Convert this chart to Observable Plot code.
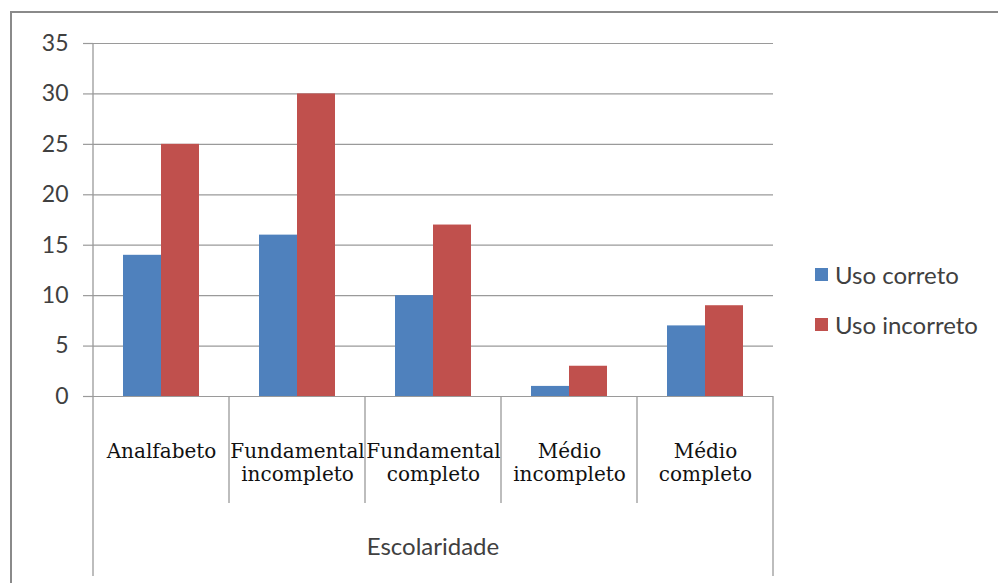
<!DOCTYPE html>
<html>
<head>
<meta charset="utf-8">
<script src="https://cdn.jsdelivr.net/npm/d3@7"></script>
<script src="https://cdn.jsdelivr.net/npm/@observablehq/plot@0.6"></script>
<style>
  html, body { margin: 0; padding: 0; background: #fff; }
  #chart { position: relative; width: 998px; height: 583px; overflow: hidden; }
  #legend { position: absolute; left: 815px; top: 249px; font-family: Lato, sans-serif; font-size: 24px; color: #404040; }
  #legend .item { display: flex; align-items: center; height: 50px; }
  #legend .sw { width: 13px; height: 13px; margin-right: 7px; }
</style>
</head>
<body>
<div id="chart"></div>
<script>
// Escolaridade x uso do medicamento
const categories = ["Analfabeto", "Fundamental incompleto", "Fundamental completo", "Médio incompleto", "Médio completo"];
const categoryLabels = ["Analfabeto", "Fundamental\nincompleto", "Fundamental\ncompleto", "Médio\nincompleto", "Médio\ncompleto"];
const series = ["Uso correto", "Uso incorreto"];
const usoCorreto = [14, 16, 10, 1, 7];
const usoIncorreto = [25, 30, 17, 3, 9];
const yTicks = [0, 5, 10, 15, 20, 25, 30, 35];
const colors = ["#4F81BD", "#C0504D"];
const axisTitle = "Escolaridade";

const rows = categories.flatMap((c, i) => [
  {cat: c, series: series[0], value: usoCorreto[i]},
  {cat: c, series: series[1], value: usoIncorreto[i]}
]);
const labelRows = categories.map((c, i) => ({cat: c, label: categoryLabels[i]}));

const W = 998, H = 583;
const gridColor = "#9a9a9a";

const plot = Plot.plot({
  width: W,
  height: H,
  marginLeft: 93,
  marginRight: 225,
  marginTop: 43,
  marginBottom: 187,
  style: {background: "transparent", overflow: "visible"},
  fx: {domain: categories, padding: 0, axis: null},
  x: {domain: series, paddingInner: 0, paddingOuter: 0.744, axis: null},
  y: {domain: [0, 35], axis: null},
  color: {domain: series, range: colors},
  marks: [
    Plot.ruleY(yTicks, {stroke: gridColor, strokeWidth: 1.2}),
    Plot.axisY({
      facet: null,
      ticks: yTicks,
      tickSize: 10,
      tickPadding: 15,
      stroke: gridColor,
      strokeWidth: 1.2,
      label: null,
      fontSize: 23,
      fontFamily: "Lato, sans-serif",
      fill: "#404040"
    }),
    Plot.barY(rows, {fx: "cat", x: "series", y: "value", fill: "series"}),
    Plot.text(labelRows, {
      fx: "cat",
      text: "label",
      frameAnchor: "bottom",
      lineAnchor: "top",
      lineHeight: 1.15,
      dy: 45,
      fontSize: 20,
      fontFamily: "'DejaVu Serif', serif",
      fill: "#111"
    })
  ]
});

document.getElementById("chart").appendChild(plot);

// Category dividers, outer axis lines and axis title, placed from the fx scale
const fx = plot.scale("fx");
const yScale = plot.scale("y");
const svg = d3.select(plot);
const y0 = yScale.apply(0);
const edges = categories.map(c => fx.apply(c)).concat([fx.apply(categories[categories.length - 1]) + fx.bandwidth]);
edges.forEach((x, i) => {
  const outer = i === 0 || i === edges.length - 1;
  svg.append("line")
    .attr("x1", x).attr("x2", x)
    .attr("y1", i === 0 ? yScale.apply(35) : y0)
    .attr("y2", outer ? 576 : 503)
    .attr("stroke", gridColor).attr("stroke-width", 1.3);
});
const xMid = (edges[0] + edges[edges.length - 1]) / 2;
svg.append("text")
  .attr("x", xMid).attr("y", 555)
  .attr("text-anchor", "middle")
  .attr("font-family", "Lato, sans-serif")
  .attr("font-size", 24)
  .attr("fill", "#404040")
  .text(axisTitle);

// Chart area border
svg.append("rect")
  .attr("x", 11).attr("y", 12)
  .attr("width", W + 20).attr("height", H + 20)
  .attr("fill", "none")
  .attr("stroke", "#8a8a8a")
  .attr("stroke-width", 2);

// Legend
const legend = d3.select("#chart").append("div").attr("id", "legend");
const color = plot.scale("color");
series.forEach((s, i) => {
  const item = legend.append("div").attr("class", "item");
  item.append("div").attr("class", "sw").style("background", color.range[i]);
  item.append("span").text(s);
});
</script>
</body>
</html>
